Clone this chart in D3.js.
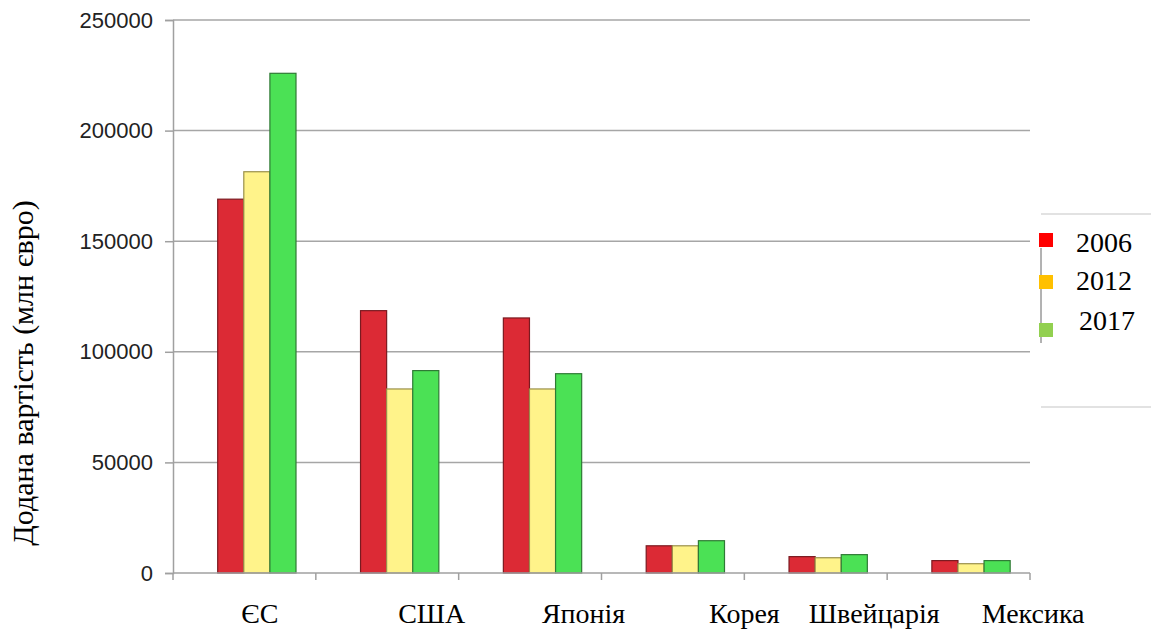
<!DOCTYPE html>
<html><head><meta charset="utf-8">
<script src="https://cdn.jsdelivr.net/npm/d3@7"></script>
<style>html,body{margin:0;padding:0;background:#fff;}svg{display:block;}</style>
</head><body>
<svg id="c" width="1151" height="631"></svg>
<script>
const categories = ["ЄС", "США", "Японія", "Корея", "Швейцарія", "Мексика"];
const seriesNames = ["2006", "2012", "2017"];
const values2006 = [169000, 118600, 115300, 12300, 7400, 5600];
const values2012 = [181400, 83200, 83200, 12300, 6900, 4200];
const values2017 = [225900, 91500, 90100, 14600, 8300, 5600];
const yTicks = [0, 50000, 100000, 150000, 200000, 250000];
const yTitle = "Додана вартість (млн євро)";

// layout / style
const barFill = ["#dc2a35", "#fff38a", "#4be155"];
const barStroke = ["#7a1a20", "#9a8f4a", "#2f7a35"];
const legendFill = ["#ff0000", "#ffc000", "#92d050"];
const labelShift = [15.5, 44.5, 53.5, 71.5, 58.5, 74.5];

const svg = d3.select("#c");
const x = d3.scaleBand().domain(categories).range([173, 1030]).padding(0);
const xs = d3.scaleBand().domain(seriesNames).range([44.7, 123]).padding(0);
const y = d3.scaleLinear().domain([0, 250000]).range([573, 20]);

// gridlines
svg.append("g").selectAll("line").data(yTicks.slice(1)).join("line")
  .attr("x1", 173).attr("x2", 1030)
  .attr("y1", d => y(d)).attr("y2", d => y(d))
  .attr("stroke", "#a6a6a6").attr("stroke-width", 1.5);

// y axis
const yAxis = d3.axisLeft(y).tickValues(yTicks).tickSize(8).tickPadding(12).tickFormat(d3.format("d"));
const gy = svg.append("g").attr("transform", "translate(173,0)").call(yAxis);
gy.select(".domain").attr("stroke", "#a0a0a0").attr("stroke-width", 1.5);
gy.selectAll(".tick line").attr("stroke", "#a0a0a0").attr("stroke-width", 1.5);
gy.selectAll(".tick text").attr("font-family", "Liberation Sans, Arial, sans-serif")
  .attr("font-size", 22).attr("fill", "#222");

// bars
const data = [values2006, values2012, values2017];
seriesNames.forEach((s, i) => {
  svg.append("g").selectAll("rect").data(categories).join("rect")
    .attr("x", (c) => x(c) + xs(s))
    .attr("width", xs.bandwidth())
    .attr("y", (c, j) => y(data[i][j]))
    .attr("height", (c, j) => y(0) - y(data[i][j]))
    .attr("fill", barFill[i])
    .attr("stroke", barStroke[i]).attr("stroke-width", 1.2);
});

// x axis
const gx = svg.append("g");
gx.append("line").attr("x1", 173).attr("x2", 1030).attr("y1", y(0)).attr("y2", y(0))
  .attr("stroke", "#a0a0a0").attr("stroke-width", 1.5);
const bounds = categories.map(c => x(c)).concat([x(categories[categories.length-1]) + x.bandwidth()]);
gx.selectAll("line.tk").data(bounds).join("line").attr("class", "tk")
  .attr("x1", d => d).attr("x2", d => d).attr("y1", y(0)).attr("y2", y(0) + 7)
  .attr("stroke", "#a0a0a0").attr("stroke-width", 1.5);
gx.selectAll("text").data(categories).join("text")
  .attr("x", (c, i) => x(c) + x.bandwidth() / 2 + labelShift[i])
  .attr("y", 623)
  .attr("text-anchor", "middle")
  .attr("font-family", "'Liberation Serif', 'Times New Roman', serif")
  .attr("font-size", 28).attr("fill", "#000")
  .text(d => d);

// y title
svg.append("text")
  .attr("transform", "translate(33,373) rotate(-90)")
  .attr("text-anchor", "middle")
  .attr("font-family", "'Liberation Serif', 'Times New Roman', serif")
  .attr("font-size", 30).attr("fill", "#000")
  .text(yTitle);

// legend
const lg = svg.append("g");
lg.append("line").attr("x1", 1041).attr("x2", 1151).attr("y1", 214).attr("y2", 214).attr("stroke", "#d9d9d9").attr("stroke-width", 1.5);
lg.append("line").attr("x1", 1041).attr("x2", 1151).attr("y1", 407).attr("y2", 407).attr("stroke", "#d9d9d9").attr("stroke-width", 1.5);
lg.append("line").attr("x1", 1041).attr("x2", 1041).attr("y1", 248).attr("y2", 343).attr("stroke", "#666").attr("stroke-width", 1);
const legY = [240, 282, 330];
const legTextY = [252, 290, 330];
const legTextX = [1076, 1076, 1079];
seriesNames.forEach((s, i) => {
  lg.append("rect").attr("x", 1039).attr("y", legY[i] - 7).attr("width", 14).attr("height", 14).attr("fill", legendFill[i]);
  lg.append("text").attr("x", legTextX[i]).attr("y", legTextY[i])
    .attr("font-family", "'Liberation Serif', 'Times New Roman', serif")
    .attr("font-size", 28).attr("fill", "#000").text(s);
});
</script>
</body></html>
